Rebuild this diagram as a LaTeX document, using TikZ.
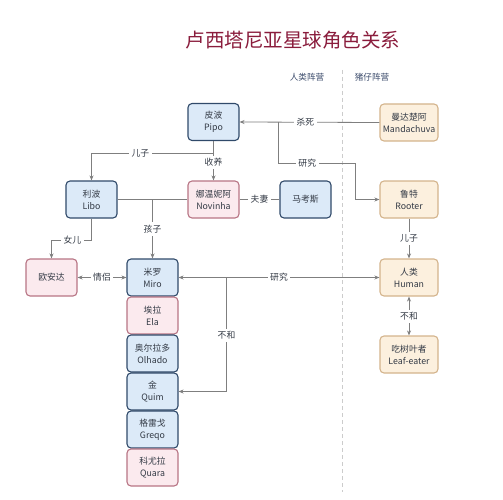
\documentclass[tikz,border=0pt]{standalone}
\usepackage{fontspec}
\setmainfont{Noto Sans CJK SC}
\usetikzlibrary{arrows.meta}
\definecolor{bluefill}{HTML}{DCEAF8}
\definecolor{bluedraw}{HTML}{304A6A}
\definecolor{pinkfill}{HTML}{FBEAEE}
\definecolor{pinkdraw}{HTML}{B87585}
\definecolor{orangefill}{HTML}{FCF0DE}
\definecolor{orangedraw}{HTML}{D4B48C}
\definecolor{linegray}{HTML}{7F7F7F}
\definecolor{txt}{HTML}{333A45}
\definecolor{titlered}{HTML}{8A1C3C}
\definecolor{headblue}{HTML}{3C4C6C}
\tikzset{
  box/.style={rounded corners=4pt, minimum width=51pt, minimum height=37pt, line width=1.1pt,
    align=center, inner sep=1pt, text=txt, font=\fontsize{8.8}{12}\selectfont},
  bluebox/.style={box, draw=bluedraw, fill=bluefill},
  pinkbox/.style={box, draw=pinkdraw, fill=pinkfill},
  orangebox/.style={box, draw=orangedraw, fill=orangefill, minimum width=58pt},
  conn/.style={draw=linegray, line width=0.8pt},
  arr/.style={conn, -{Stealth[length=5pt,width=4pt]}},
  arrboth/.style={conn, {Stealth[length=5pt,width=4pt]}-{Stealth[length=5pt,width=4pt]}},
  lbl/.style={fill=white, inner sep=2.5pt, text=txt, font=\fontsize{8.8}{11}\selectfont},
  head/.style={text=headblue, font=\fontsize{8.6}{10}\selectfont}
}
\begin{document}
\begin{tikzpicture}[x=1pt,y=-1pt]
\useasboundingbox[fill=white] (0,0) rectangle (503,500);
% title and headers
\node[text=titlered, font=\fontsize{19.5}{22}\selectfont] (title) at (293,40) {卢西塔尼亚星球角色关系};
\node[head] (hhuman) at (307,77) {人类阵营};
\node[head] (hpig) at (372,77) {猪仔阵营};
\coordinate (dtop) at (342,70);
\coordinate (dbot) at (342,492);
\draw[draw=black!20, line width=0.8pt, dash pattern=on 4pt off 3pt] (dtop) -- (dbot);
% nodes
\node[bluebox] (pipo) at (213.5,122) {皮波\\Pipo};
\node[orangebox] (manda) at (409,122.5) {曼达楚阿\\Mandachuva};
\node[bluebox] (libo) at (91.5,199.5) {利波\\Libo};
\node[pinkbox] (novinha) at (213.5,199.5) {娜温妮阿\\Novinha};
\node[bluebox] (marcos) at (305.5,199.5) {马考斯};
\node[orangebox] (rooter) at (409,199.5) {鲁特\\Rooter};
\node[pinkbox] (ouanda) at (51.5,277.5) {欧安达};
\node[bluebox] (miro) at (152.5,277.5) {米罗\\Miro};
\node[orangebox] (human) at (409,277.5) {人类\\Human};
\node[pinkbox] (ela) at (152.5,315.5) {埃拉\\Ela};
\node[bluebox] (olhado) at (152.5,353.5) {奥尔拉多\\Olhado};
\node[bluebox] (quim) at (152.5,391.5) {金\\Quim};
\node[bluebox] (greqo) at (152.5,429.5) {格雷戈\\Greqo};
\node[pinkbox] (quara) at (152.5,467.5) {科尤拉\\Quara};
\node[orangebox] (leaf) at (409,354.5) {吃树叶者\\Leaf-eater};
% connectors
\coordinate (j1) at (213.5,153);
\draw[conn] (pipo.south) -- (j1);
\draw[arr] (j1) -| node[lbl,pos=0.3]{儿子} (libo.north);
\draw[arr] (j1) -- node[lbl,pos=0.35]{收养} (novinha.north);
\draw[arr] (manda.west) -- node[lbl,pos=0.53]{杀死} (pipo.east);
\coordinate (j2) at (278,122.5);
\coordinate (j3) at (355,163);
\draw[conn] (j2) |- node[lbl,pos=0.69]{研究} (j3);
\draw[arr] (j3) |- (rooter.west);
\draw[conn] (libo.east) -- (novinha.west);
\coordinate (j4) at (152.5,199.5);
\draw[arr] (j4) -- node[lbl]{孩子} (miro.north);
\draw[conn] (novinha.east) -- node[lbl]{夫妻} (marcos.west);
\coordinate (j5) at (91.5,240);
\draw[conn] (libo.south) -- (j5);
\draw[arr] (j5) -| node[lbl,pos=0.24]{女儿} (ouanda.north);
\draw[arrboth] (ouanda.east) -- node[lbl]{情侣} (miro.west);
\draw[arrboth] (miro.east) -- node[lbl,pos=0.5]{研究} (human.west);
\coordinate (j6) at (226.5,277.5);
\draw[arr] (j6) |- node[lbl,pos=0.253]{不和} (quim.east);
\draw[arr] (rooter.south) -- node[lbl]{儿子} (human.north);
\draw[arrboth] (human.south) -- node[lbl]{不和} (leaf.north);
\end{tikzpicture}
\end{document}
